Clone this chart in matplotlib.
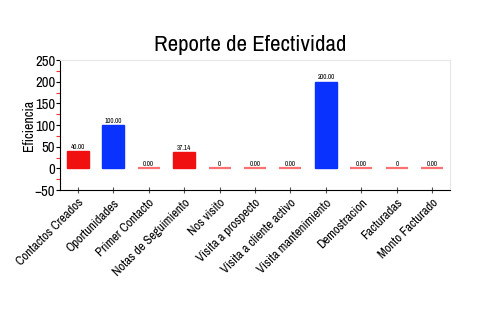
import matplotlib
matplotlib.use("Agg")
import matplotlib.pyplot as plt
from matplotlib.ticker import MultipleLocator
from matplotlib import font_manager

categories = ["Contactos Creados", "Oportunidades", "Primer Contacto", "Notas de Seguimiento",
              "Nos visito", "Visita a prospecto", "Visita a cliente activo", "Visita mantenimiento",
              "Demostracion", "Facturadas", "Monto Facturado"]
values = [40.00, 100.00, 0.00, 37.14, 0, 0.00, 0.00, 200.00, 0.00, 0, 0.00]
value_labels = ["40.00", "100.00", "0.00", "37.14", "0", "0.00", "0.00", "200.00", "0.00", "0", "0.00"]
blue_cats = {"Oportunidades", "Visita mantenimiento"}

names = sorted({f.name for f in font_manager.fontManager.ttflist})
narrow = [n for n in names if "Narrow" in n or "Condensed" in n]
fam = narrow[0] if narrow else "DejaVu Sans"
FONT = dict(family=fam)

fig = plt.figure(figsize=(5, 3.3), dpi=100)
ax = fig.add_axes([0.12, 0.424, 0.78, 0.394])

x = list(range(len(categories)))
for i, (c, v) in enumerate(zip(categories, values)):
    col = "#0a32ff" if c in blue_cats else "#f01010"
    if v == 0:
        ax.bar(i, 0.0001, width=0.62, color="#ff7070", edgecolor="#ff7070", linewidth=1.6)
    else:
        ax.bar(i, v, width=0.62, color=col, edgecolor=col, linewidth=1.0)
    ax.text(i, v + 3, value_labels[i], ha="center", va="bottom", fontsize=5, **FONT)

ax.set_xlim(-0.5, len(categories) - 0.5)
ax.set_ylim(-50, 250)
ax.yaxis.set_major_locator(MultipleLocator(50))
ax.yaxis.set_minor_locator(MultipleLocator(25))
ax.set_xticks(x)
ax.set_xticklabels(categories, rotation=45, ha="right", rotation_mode="anchor", fontsize=9.2, **FONT)
for lab in ax.get_yticklabels():
    lab.set_fontsize(10.5)
    lab.set_family(fam)
ax.tick_params(axis="y", which="major", length=3, width=0.8, color="black", pad=0.5)
ax.tick_params(axis="y", which="minor", length=3, width=0.8, color="#ff3030")
ax.tick_params(axis="x", which="major", length=4, width=0.8, direction="inout", color="#555555", pad=3)

ax.spines["left"].set_color("black")
ax.spines["bottom"].set_color("black")
ax.spines["top"].set_color("#e6e6e6")
ax.spines["right"].set_color("#e6e6e6")
ax.set_ylabel("Eficiencia", fontsize=10, **FONT)
ax.yaxis.set_label_coords(-0.062, 0.5)
fig.text(0.5, 0.865, "Reporte de Efectividad", ha="center", va="center", fontsize=16.5, **FONT)

fig.savefig("out.png", dpi=100)
